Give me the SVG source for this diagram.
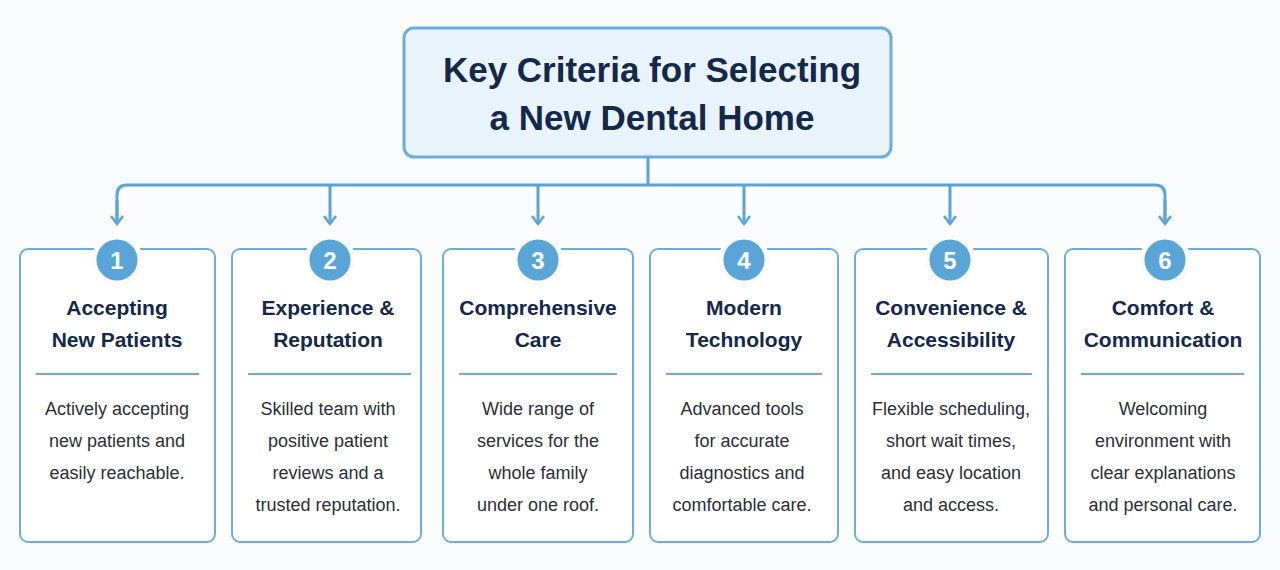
<svg xmlns="http://www.w3.org/2000/svg" width="1280" height="570" viewBox="0 0 1280 570">
<style>
.card{fill:#fff;stroke:#6aaedb;stroke-width:2}
.circ{fill:#5aa5d8;stroke:#fbfcfe;stroke-width:5}
.num{font:bold 24px "Liberation Sans",Arial,sans-serif;fill:#fff;text-anchor:middle}
.h{font:bold 21px "Liberation Sans",Arial,sans-serif;fill:#13284a;text-anchor:middle}
.b{font:18px "Liberation Sans",Arial,sans-serif;fill:#2a2f38;text-anchor:middle}
.sep{stroke:#6aaedb;stroke-width:2}
.con{fill:none;stroke:#5aa5d8;stroke-width:3}
</style>
<defs><marker id="ar" viewBox="0 0 12 14" refX="10" refY="7" markerWidth="12" markerHeight="14" markerUnits="userSpaceOnUse" orient="auto"><path d="M2 1 L10 7 L2 13" fill="none" stroke="#5aa5d8" stroke-width="2.5"/></marker></defs>
<rect width="1280" height="570" fill="#fbfcfe"/>
<g id="title"><rect x="404" y="28" width="487" height="129" rx="10" fill="#e9f3fb" stroke="#6aaedb" stroke-width="3"/>
<text x="652" y="82" class="h" style="font-size:35px">Key Criteria for Selecting</text>
<text x="652" y="130" class="h" style="font-size:35px">a New Dental Home</text></g>
<g id="connectors">
<path class="con" d="M648 157 V185"/>
<path class="con" d="M117 222 V195 Q117 185 127 185 H1155 Q1165 185 1165 195 V222"/>
<path class="con" d="M117 200 V224" marker-end="url(#ar)"/>
<path class="con" d="M330 185 V224" marker-end="url(#ar)"/>
<path class="con" d="M538 185 V224" marker-end="url(#ar)"/>
<path class="con" d="M744 185 V224" marker-end="url(#ar)"/>
<path class="con" d="M950 185 V224" marker-end="url(#ar)"/>
<path class="con" d="M1165 200 V224" marker-end="url(#ar)"/>
</g>
<g id="n1"><rect class="card" x="20" y="249" width="195" height="293" rx="8"/><circle class="circ" cx="117" cy="260" r="23"/><text class="num" x="117" y="269">1</text>
<line class="sep" x1="36" y1="374" x2="199" y2="374"/>
<text class="h" x="117" y="315">Accepting</text><text class="h" x="117" y="347">New Patients</text>
<text class="b" x="117" y="415">Actively accepting</text><text class="b" x="117" y="447">new patients and</text><text class="b" x="117" y="479">easily reachable.</text></g>
<g id="n2"><rect class="card" x="232" y="249" width="189" height="293" rx="8"/><circle class="circ" cx="330" cy="260" r="23"/><text class="num" x="330" y="269">2</text>
<line class="sep" x1="248" y1="374" x2="411" y2="374"/>
<text class="h" x="328" y="315">Experience &amp;</text><text class="h" x="328" y="347">Reputation</text>
<text class="b" x="328" y="415">Skilled team with</text><text class="b" x="328" y="447">positive patient</text><text class="b" x="328" y="479">reviews and a</text><text class="b" x="328" y="511">trusted reputation.</text></g>
<g id="n3"><rect class="card" x="443" y="249" width="190" height="293" rx="8"/><circle class="circ" cx="538" cy="260" r="23"/><text class="num" x="538" y="269">3</text>
<line class="sep" x1="459" y1="374" x2="617" y2="374"/>
<text class="h" x="538" y="315">Comprehensive</text><text class="h" x="538" y="347">Care</text>
<text class="b" x="538" y="415">Wide range of</text><text class="b" x="538" y="447">services for the</text><text class="b" x="538" y="479">whole family</text><text class="b" x="538" y="511">under one roof.</text></g>
<g id="n4"><rect class="card" x="650" y="249" width="188" height="293" rx="8"/><circle class="circ" cx="744" cy="260" r="23"/><text class="num" x="744" y="269">4</text>
<line class="sep" x1="666" y1="374" x2="822" y2="374"/>
<text class="h" x="744" y="315">Modern</text><text class="h" x="744" y="347">Technology</text>
<text class="b" x="742" y="415">Advanced tools</text><text class="b" x="742" y="447">for accurate</text><text class="b" x="742" y="479">diagnostics and</text><text class="b" x="742" y="511">comfortable care.</text></g>
<g id="n5"><rect class="card" x="855" y="249" width="193" height="293" rx="8"/><circle class="circ" cx="950" cy="260" r="23"/><text class="num" x="950" y="269">5</text>
<line class="sep" x1="871" y1="374" x2="1032" y2="374"/>
<text class="h" x="951" y="315">Convenience &amp;</text><text class="h" x="951" y="347">Accessibility</text>
<text class="b" x="951" y="415">Flexible scheduling,</text><text class="b" x="951" y="447">short wait times,</text><text class="b" x="951" y="479">and easy location</text><text class="b" x="951" y="511">and access.</text></g>
<g id="n6"><rect class="card" x="1065" y="249" width="195" height="293" rx="8"/><circle class="circ" cx="1165" cy="260" r="23"/><text class="num" x="1165" y="269">6</text>
<line class="sep" x1="1081" y1="374" x2="1244" y2="374"/>
<text class="h" x="1163" y="315">Comfort &amp;</text><text class="h" x="1163" y="347">Communication</text>
<text class="b" x="1163" y="415">Welcoming</text><text class="b" x="1163" y="447">environment with</text><text class="b" x="1163" y="479">clear explanations</text><text class="b" x="1163" y="511">and personal care.</text></g>
</svg>
